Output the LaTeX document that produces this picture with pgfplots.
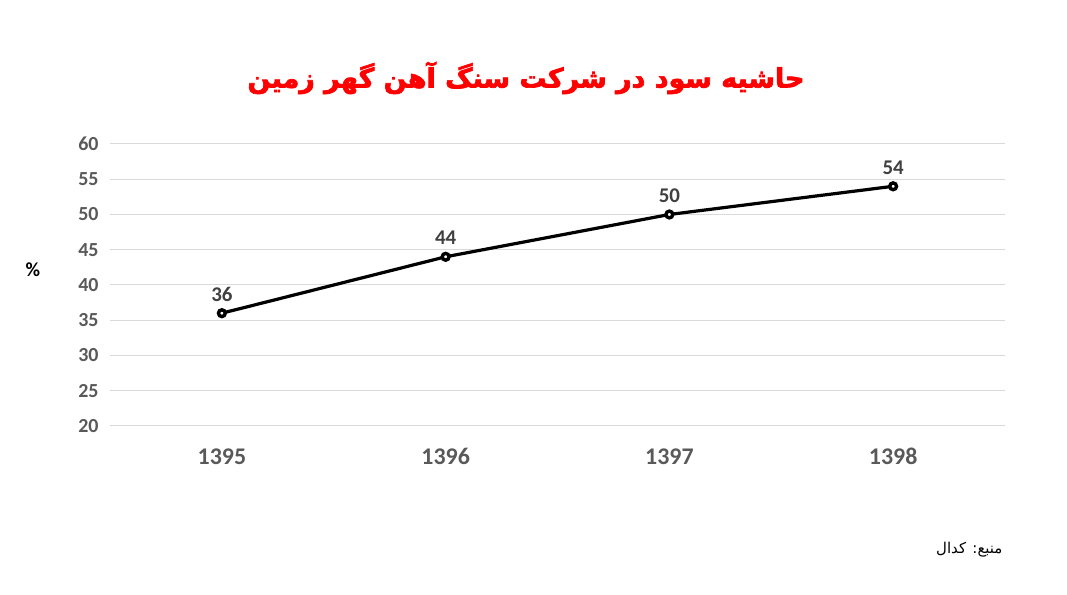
\documentclass[border=0pt]{standalone}
\usepackage{fontspec}
\usepackage{pgfplots}
\pgfplotsset{compat=1.18}
\setmainfont{Carlito}
\TeXXeTstate=1
\newfontfamily\arabicfont[Script=Arabic]{DejaVu Sans}
\newfontfamily\titlefont[Script=Arabic,FakeBold=2.5]{DejaVu Sans Bold}
\definecolor{tickgray}{RGB}{89,89,89}
\definecolor{labgray}{RGB}{64,64,64}
\definecolor{gridgray}{RGB}{217,217,217}
\definecolor{titlered}{RGB}{255,0,0}

\begin{document}
\begin{tikzpicture}[x=1bp,y=1bp]
  \useasboundingbox (0,0) rectangle (1067,595);
  \begin{axis}[
      at={(110bp,169bp)}, anchor=south west,
      scale only axis,
      width=895bp, height=282bp,
      xmin=-0.5, xmax=3.5,
      ymin=20, ymax=60,
      ytick={20,25,...,60},
      xtick={0,1,2,3},
      xticklabels={1395,1396,1397,1398},
      axis line style={draw=none},
      major tick length=0pt,
      ymajorgrids,
      grid style={gridgray, line width=1bp},
      /pgf/number format/assume math mode=true,
      yticklabel style={font=\fontsize{20}{22}\selectfont\bfseries, text=tickgray, xshift=-8bp},
      xticklabel style={font=\fontsize{24}{26}\selectfont\bfseries, text=tickgray,
        anchor=base, yshift=-39bp},
      nodes near coords,
      every node near coord/.append style={font=\fontsize{21}{23}\selectfont\bfseries, text=labgray, yshift=7bp},
      clip=false,
    ]
    \addplot[black, line width=3.2bp, mark=*, mark size=3.4bp,
      mark options={fill=white, draw=black, line width=3.4bp}]
      coordinates {(0,36) (1,44) (2,50) (3,54)};
  \end{axis}
  \node[text=titlered] at (526,517)
    {\titlefont\fontsize{27}{32}\selectfont\beginR حاشیه سود در شرکت سنگ آهن گهر زمین\endR};
  \node at (33,325) {\fontsize{20}{22}\selectfont\bfseries \%};
  \node[anchor=east] at (1006,45)
    {\arabicfont\fontsize{15}{17}\selectfont\beginR منبع: کدال\endR};
\end{tikzpicture}
\end{document}
